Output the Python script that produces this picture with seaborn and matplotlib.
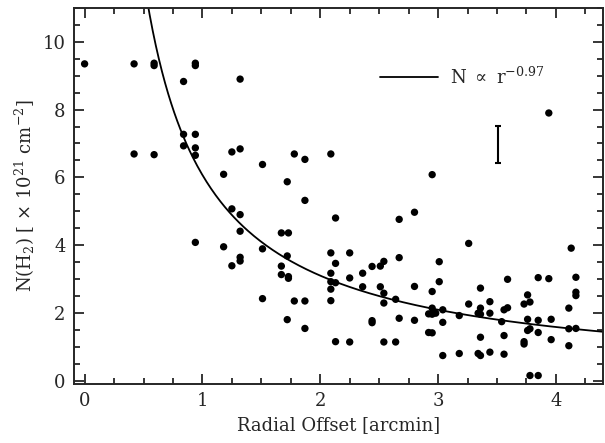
import numpy as np
import pandas as pd
import seaborn as sns
import matplotlib
matplotlib.use('Agg')
import matplotlib.pyplot as plt
from matplotlib.ticker import MultipleLocator

# dati
radial_offset = [0.0, 0.42, 0.59, 0.59, 0.94, 0.94, 0.84, 1.32, 0.84, 0.94, 0.84, 0.94, 0.94, 0.42, 0.59,
                 1.25, 1.32, 1.51, 1.18, 1.78, 1.87, 2.09, 1.72, 1.87, 1.25, 1.32, 2.13, 1.32, 1.67, 1.73,
                 0.94, 1.18, 1.51, 2.09, 1.72, 1.32, 1.32, 2.13, 1.25, 1.67, 2.09, 1.67, 1.73, 1.73, 2.09,
                 2.13, 2.09, 1.51, 1.78, 1.87, 2.09, 1.72, 1.87, 2.13, 2.80, 2.67, 3.26, 4.13, 2.25, 2.67,
                 2.54, 2.51, 3.01, 2.44, 2.36, 2.25, 3.59, 3.85, 3.94, 4.17, 3.01, 2.36, 2.51, 2.80, 2.95,
                 3.36, 4.17, 4.17, 2.54, 3.76, 2.64, 2.54, 3.44, 3.78, 3.73, 3.26, 3.59, 3.56, 3.36, 3.34,
                 3.36, 3.44, 4.11, 2.95, 2.98, 2.95, 2.92, 3.04, 3.18, 2.67, 2.80, 2.44, 2.44, 3.76, 3.85,
                 3.96, 3.54, 3.04, 3.78, 3.76, 3.85, 4.11, 4.17, 2.92, 2.95, 3.56, 3.36, 3.96, 2.25, 2.54,
                 2.64, 3.73, 3.73, 4.11, 3.04, 3.18, 3.34, 3.36, 3.44, 3.56, 3.78, 3.85, 2.95, 3.94]
column_density = [9.35, 9.35, 9.37, 9.30, 9.37, 9.30, 8.83, 8.90, 7.27, 7.27, 6.93, 6.87, 6.65, 6.69, 6.67,
                  6.75, 6.84, 6.38, 6.09, 6.69, 6.53, 6.69, 5.87, 5.32, 5.07, 4.90, 4.80, 4.41, 4.36, 4.36,
                  4.08, 3.95, 3.89, 3.77, 3.68, 3.64, 3.53, 3.46, 3.39, 3.38, 3.17, 3.13, 3.07, 3.02, 2.92,
                  2.89, 2.70, 2.42, 2.35, 2.35, 2.36, 1.80, 1.54, 1.15, 4.97, 4.76, 4.05, 3.91, 3.77, 3.63,
                  3.52, 3.38, 3.51, 3.37, 3.17, 3.03, 2.99, 3.04, 3.01, 3.05, 2.92, 2.77, 2.77, 2.78, 2.63,
                  2.73, 2.61, 2.51, 2.58, 2.53, 2.40, 2.29, 2.33, 2.32, 2.26, 2.26, 2.15, 2.09, 2.14, 1.99,
                  1.96, 1.99, 2.14, 2.14, 1.99, 1.96, 1.97, 2.09, 1.92, 1.84, 1.78, 1.77, 1.71, 1.81, 1.78,
                  1.81, 1.74, 1.72, 1.53, 1.48, 1.42, 1.53, 1.54, 1.42, 1.41, 1.33, 1.28, 1.21, 1.14, 1.14,
                  1.14, 1.15, 1.08, 1.03, 0.74, 0.80, 0.80, 0.74, 0.84, 0.78, 0.15, 0.15, 6.08, 7.90]

# legge di potenza N = A * r^-0.97
fit_norm = 6.07
fit_index = -0.97

# barra d'errore tipica
err_x = 3.51
err_y = 6.97
err_size = 0.55

df = pd.DataFrame({'r': radial_offset, 'N': column_density})
r_fit = np.linspace(0.5, 4.4, 300)
df_fit = pd.DataFrame({'r': r_fit, 'N': fit_norm * r_fit ** fit_index})

sns.set_style('ticks')
plt.rcParams['font.family'] = ['DejaVu Serif']
plt.rcParams['mathtext.fontset'] = 'dejavuserif'

fig = plt.figure(figsize=(6.05, 4.43), dpi=100)
ax = fig.add_axes([0.1223, 0.1332, 0.8744, 0.8488])

sns.scatterplot(data=df, x='r', y='N', color='black', s=28, edgecolor='none', ax=ax, zorder=3)
sns.lineplot(data=df_fit, x='r', y='N', color='black', lw=1.3, ax=ax)

ax.errorbar([err_x], [err_y], yerr=[err_size], color='black', lw=1.5, capsize=2.5, capthick=1.5)

# legenda disegnata a mano
ax.plot([2.51, 3.0], [8.97, 8.97], color='black', lw=1.3)
ax.text(3.10, 8.97, r'N $\propto$ r$^{-0.97}$', fontsize=13, va='center', ha='left')

ax.set_xlim(-0.09, 4.4)
ax.set_ylim(-0.1, 11)
ax.xaxis.set_major_locator(MultipleLocator(1))
ax.xaxis.set_minor_locator(MultipleLocator(0.25))
ax.yaxis.set_major_locator(MultipleLocator(2))
ax.yaxis.set_minor_locator(MultipleLocator(0.5))
ax.tick_params(which='both', direction='in', top=True, right=True, labelsize=13, width=1.3)
ax.tick_params(which='major', length=7.5, pad=6)
ax.tick_params(which='minor', length=4)
for s in ax.spines.values():
    s.set_linewidth(1.4)

ax.set_xlabel('Radial Offset [arcmin]', fontsize=13)
ax.set_ylabel(r'N(H$_2$) [ $\times$ 10$^{21}$ cm$^{-2}$]', fontsize=13)

fig.savefig('out.png', dpi=100)
